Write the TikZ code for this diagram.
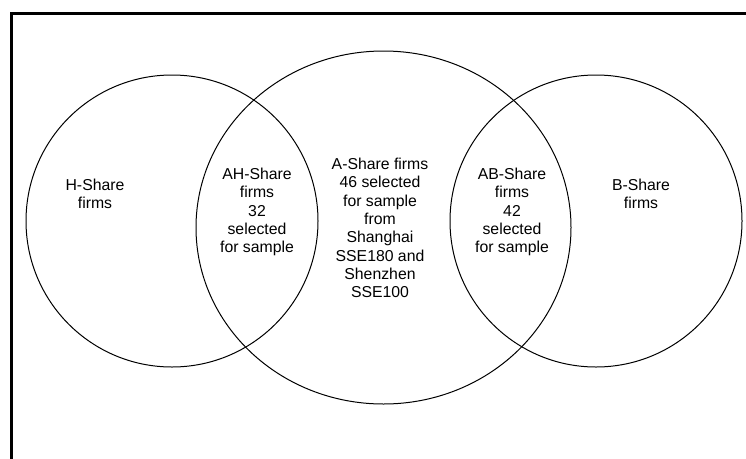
\documentclass[tikz,border=0pt]{standalone}
\usepackage{fontspec}
\setmainfont{Liberation Sans}
\begin{document}
\begin{tikzpicture}[x=1pt,y=-1pt,
  ring/.style={draw=black,line width=1pt},
  lbl/.style={align=center,inner sep=0pt,font=\fontsize{15.8}{18.3}\selectfont}]
\useasboundingbox (0,0) rectangle (746,458);
\begin{scope}
\clip (0,0) rectangle (746,458);
\draw[line width=3pt] (11.5,13.2) rectangle (800,500);
\end{scope}
\draw[ring] (172,221) circle (146);
\draw[ring] (596,221) circle (146);
\draw[ring] (383.5,227.5) ellipse [x radius=187.5, y radius=176.5];
\node[lbl] (h) at (95,194) {H-Share\\firms};
\node[lbl] (b) at (641,194) {B-Share\\firms};
\node[lbl] (ah) at (257,212) {AH-Share\\firms\\32\\selected\\for sample};
\node[lbl] (ab) at (512,212) {AB-Share\\firms\\42\\selected\\for sample};
\node[lbl] (a) at (380,228) {A-Share firms\\46 selected\\for sample\\from\\Shanghai\\SSE180 and\\Shenzhen\\SSE100};
\end{tikzpicture}
\end{document}
